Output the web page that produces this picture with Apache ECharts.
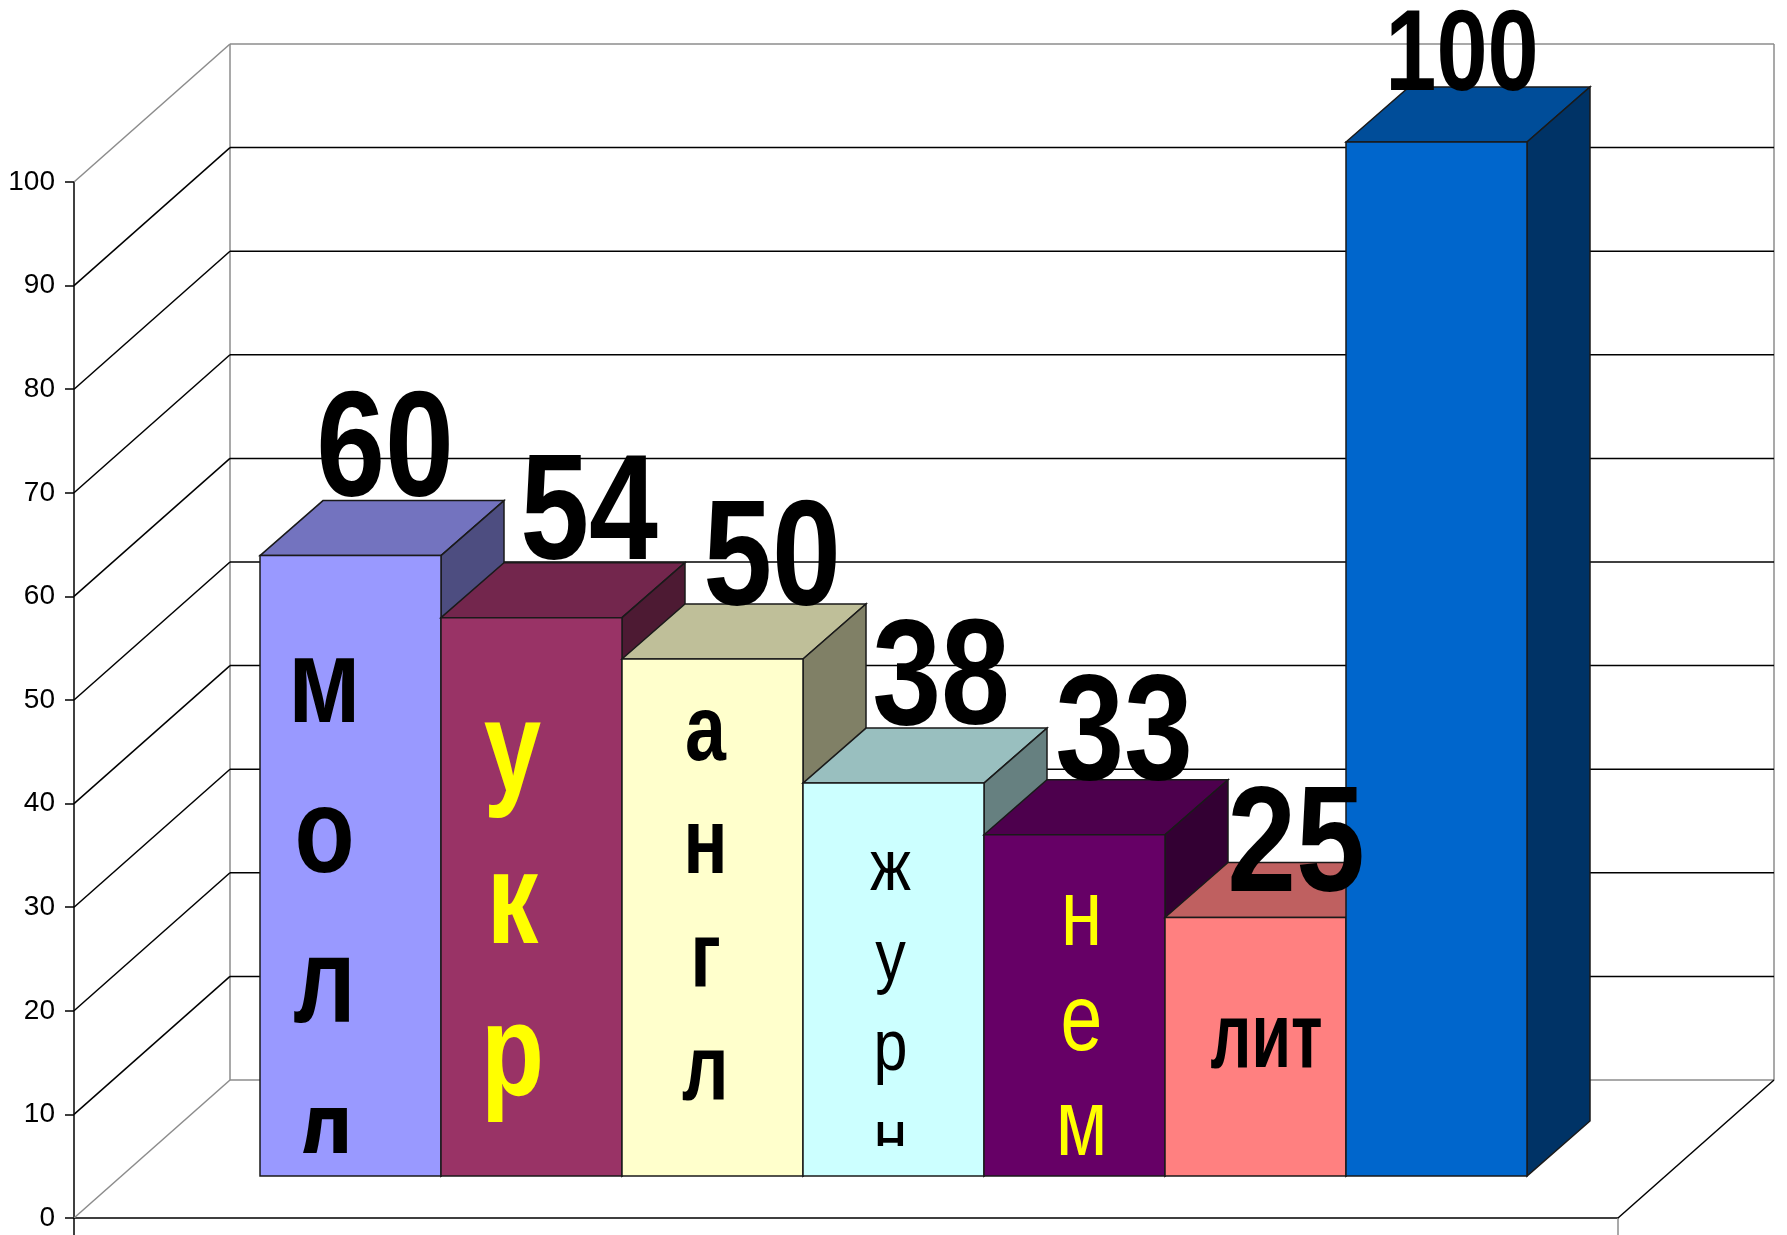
<!doctype html>
<html>
<head>
<meta charset="utf-8">
<script src="https://cdn.jsdelivr.net/npm/echarts@6.0.0/dist/echarts.min.js"></script>
<style>
	html, body { margin: 0; padding: 0; background: #fff; }
	#chart { width: 1787px; height: 1235px; }
</style>
</head>
<body>
<div id="chart"></div>
<script type="text/javascript">
	// data
	var subjects = ['молд', 'укр', 'англ', 'журн', 'нем', 'лит', ''];
	var scores = [60, 54, 50, 38, 33, 25, 100];
	var gridValues = [0, 10, 20, 30, 40, 50, 60, 70, 80, 90, 100];

	// styles
	var barColors = ['#9999FF', '#993366', '#FFFFCC', '#CCFFFF', '#660066', '#FF8080', '#0066CC'];
	var WALL_DEPTH = [156, -138];   // front plane -> back wall
	var BAR_DEPTH = [63, -55];      // front face -> back of the box
	var FONT = '"Liberation Sans", Arial, sans-serif';
	// how the subject text sits inside each bar
	var subjectLook = [
		{ fill: '#000', weight: 'bold', size: 120, sx: 0.82, first: 689, pitch: 150, dx: -26, clip: 1153 },
		{ fill: '#FFFF00', weight: 'bold', size: 129, sx: 0.8, first: 755, pitch: 152, dx: -19 },
		{ fill: '#000', weight: 'bold', size: 92, sx: 0.8, first: 735, pitch: 113, dx: -7 },
		{ fill: '#000', weight: 'normal', size: 72, sx: 0.85, first: 870, pitch: 90, dx: -3, clip: 1146 },
		{ fill: '#FFFF00', weight: 'normal', size: 94, sx: 0.8, first: 919, pitch: 105, dx: 7 },
		{ fill: '#000', weight: 'bold', size: 92, sx: 0.7, first: 1042, dx: 11, flat: true },
		null
	];
	// value labels: [dx, dy, font size, x scale]
	var labelLook = [
		[3, 8, 151, 0.82], [26, 9, 151, 0.82], [28, 14, 151, 0.82], [16, 9, 151, 0.82],
		[18, 12, 151, 0.82], [9, 41, 151, 0.82], [-6, 13, 115, 0.8]
	];

	function shade(hex, k) {
		var n = parseInt(hex.slice(1), 16);
		var r = Math.round(((n >> 16) & 255) * k);
		var g = Math.round(((n >> 8) & 255) * k);
		var b = Math.round((n & 255) * k);
		return 'rgb(' + r + ',' + g + ',' + b + ')';
	}

	function line(p, q, color, z2) {
		return {
			type: 'line', z2: z2 || 0,
			shape: { x1: p[0], y1: p[1], x2: q[0], y2: q[1] },
			style: { stroke: color, lineWidth: 1.5 }
		};
	}

	function shift(p, d) {
		return [p[0] + d[0], p[1] + d[1]];
	}

	function renderWalls(params, api) {
		var v = api.value(1);
		var p0 = api.coord([0, v]);
		var p1 = api.coord([1, v]);
		var edge = (v === 0 || v === 100);
		var color = edge ? '#8c8c8c' : '#000';
		var children = [
			line(p0, shift(p0, WALL_DEPTH), color),
			line(shift(p0, WALL_DEPTH), shift(p1, WALL_DEPTH), color)
		];
		if (v === 0) {
			var t0 = api.coord([0, 100]);
			var t1 = api.coord([1, 100]);
			children.push(line(shift(p0, WALL_DEPTH), shift(t0, WALL_DEPTH), '#8c8c8c'));
			children.push(line(shift(p1, WALL_DEPTH), shift(t1, WALL_DEPTH), '#8c8c8c'));
			children.push(line(p1, shift(p1, WALL_DEPTH), '#000', 1));
			children.push(line(p0, [p0[0], p0[1] + 20], '#000'));
			children.push(line(p1, [p1[0], p1[1] + 20], '#8c8c8c'));
		}
		return { type: 'group', children: children };
	}

	function subjectText(i, x0, yT, w) {
		var look = subjectLook[i];
		var word = subjects[i];
		if (!look || !word) return [];
		var cx = x0 + w / 2 + look.dx;
		var font = look.weight + ' ' + look.size + 'px ' + FONT;
		var letters = look.flat ? [word] : word.split('');
		var items = letters.map(function(ch, k) {
			var y = look.first + (look.flat ? 0 : k * look.pitch);
			return {
				type: 'text', x: cx, y: y, scaleX: look.sx, z2: i * 10 + 5,
				style: {
					text: ch, fill: look.fill, font: font,
					align: 'center', verticalAlign: 'middle',
					textAlign: 'center', textVerticalAlign: 'middle'
				}
			};
		});
		var group = { type: 'group', children: items };
		if (look.clip) {
			group.clipPath = { type: 'rect', shape: { x: x0, y: yT, width: w, height: look.clip - yT } };
		}
		return [group];
	}

	function renderBar(params, api) {
		var i = params.dataIndex;
		var v = api.value(1);
		var top = api.coord([i, v]);
		var base = api.coord([i, 0]);
		var w = api.size([1, 0])[0];
		var x0 = top[0] - w / 2, x1 = top[0] + w / 2;
		var yT = top[1], yB = base[1];
		var dx = BAR_DEPTH[0], dy = BAR_DEPTH[1];
		var c = barColors[i];
		var stroke = '#1a1a1a';
		var children = [
			{
				type: 'polygon', z2: i * 10,
				shape: { points: [[x0, yT], [x0 + dx, yT + dy], [x1 + dx, yT + dy], [x1, yT]] },
				style: { fill: shade(c, 0.75), stroke: stroke, lineWidth: 1.5 }
			}, {
				type: 'polygon', z2: i * 10 + 1,
				shape: { points: [[x1, yT], [x1 + dx, yT + dy], [x1 + dx, yB + dy], [x1, yB]] },
				style: { fill: shade(c, 0.5), stroke: stroke, lineWidth: 1.5 }
			}, {
				type: 'rect', z2: i * 10 + 2,
				shape: { x: x0, y: yT, width: w, height: yB - yT },
				style: { fill: c, stroke: stroke, lineWidth: 1.5 }
			}
		];
		children = children.concat(subjectText(i, x0, yT, w));
		var lab = labelLook[i];
		var baseline = yT + dy + lab[1];
		children.push({
			type: 'text', z2: 1000,
			x: x0 + w / 2 + dx / 2 + lab[0],
			y: baseline - 0.36 * lab[2],
			scaleX: lab[3],
			style: {
				text: String(v), fill: '#000', font: 'bold ' + lab[2] + 'px ' + FONT,
				align: 'center', verticalAlign: 'middle',
				textAlign: 'center', textVerticalAlign: 'middle'
			}
		});
		return { type: 'group', children: children };
	}

	var myChart = echarts.init(document.getElementById('chart'));
	var option = {
		backgroundColor: '#fff',
		animation: false,
		grid: [
			{ left: 74, top: 182, width: 1544, height: 1036, outerBoundsMode: 'none' },
			{ left: 260, top: 142, width: 1267, height: 1034, outerBoundsMode: 'none' }
		],
		xAxis: [{
			type: 'value', gridIndex: 0, min: 0, max: 1,
			axisLine: { show: true, lineStyle: { color: '#000', width: 1.5 } },
			axisTick: { show: false },
			axisLabel: { show: false },
			splitLine: { show: false }
		}, {
			type: 'category', gridIndex: 1, data: subjects, show: false
		}],
		yAxis: [{
			type: 'value', gridIndex: 0, min: 0, max: 100, interval: 10,
			axisLine: { show: true, lineStyle: { color: '#000', width: 1.5 } },
			axisTick: { show: true, inside: false, length: 9, lineStyle: { color: '#000', width: 1.5 } },
			axisLabel: { margin: 19, fontSize: 28, color: '#000', fontFamily: FONT },
			splitLine: { show: false }
		}, {
			type: 'value', gridIndex: 1, min: 0, max: 100, show: false
		}],
		series: [{
			type: 'custom',
			xAxisIndex: 0, yAxisIndex: 0,
			z: 1,
			silent: true,
			data: gridValues.map(function(v) { return [0, v]; }),
			renderItem: renderWalls
		}, {
			type: 'custom',
			xAxisIndex: 1, yAxisIndex: 1,
			z: 3,
			silent: true,
			data: scores.map(function(v, i) { return [i, v]; }),
			renderItem: renderBar
		}]
	};
	myChart.setOption(option);
</script>
</body>
</html>
